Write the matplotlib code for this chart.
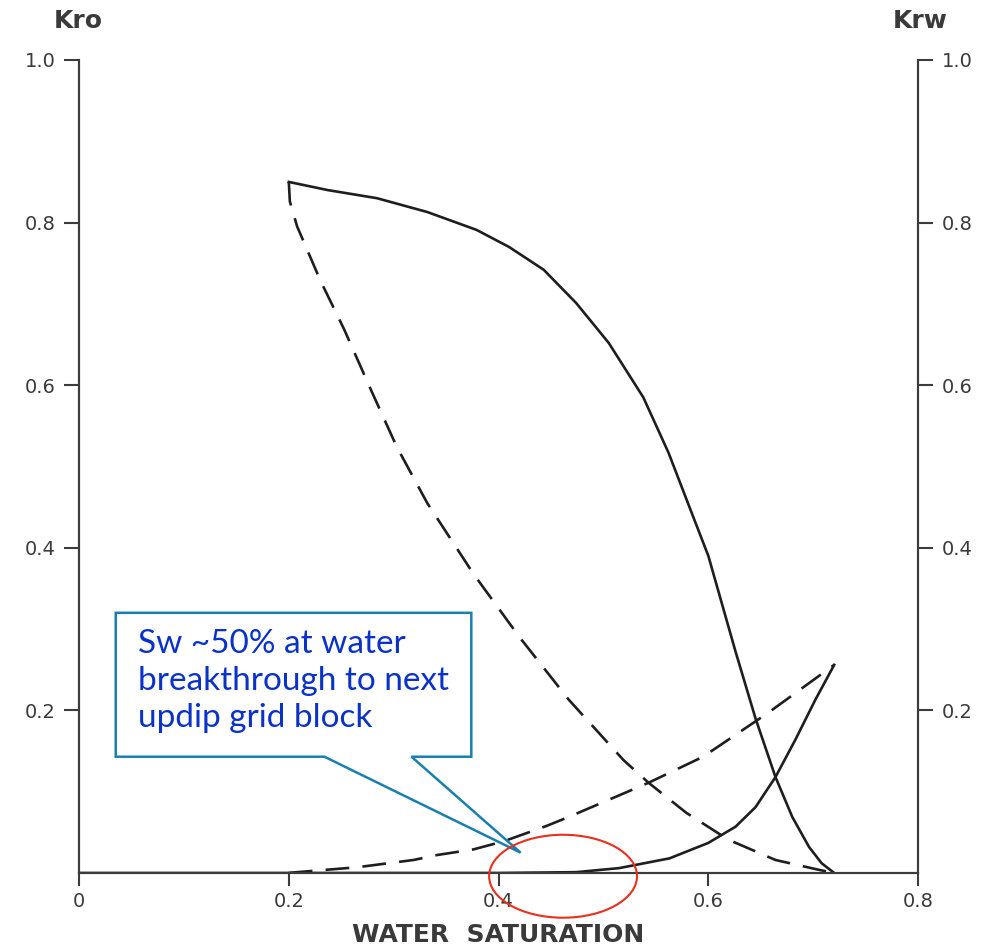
#!/usr/bin/env python3
"""Relative permeability curves (Kro / Krw vs water saturation) with callout."""

import matplotlib
matplotlib.use("Agg")
import matplotlib.pyplot as plt
from matplotlib.patches import Ellipse, Polygon

# --- data ---
# Kro, solid
kro_solid_sw = [0.20, 0.237, 0.284, 0.332, 0.379, 0.410, 0.443, 0.474, 0.505,
                0.538, 0.562, 0.585, 0.600, 0.626, 0.645, 0.664, 0.680, 0.696,
                0.708, 0.72]
kro_solid = [0.85, 0.840, 0.830, 0.813, 0.791, 0.770, 0.742, 0.701, 0.652,
             0.585, 0.517, 0.440, 0.390, 0.272, 0.190, 0.118, 0.069, 0.032,
             0.012, 0.0]
# Kro, dashed
kro_dash_sw = [0.20, 0.201, 0.208, 0.230, 0.253, 0.277, 0.303, 0.332, 0.376,
               0.420, 0.467, 0.519, 0.543, 0.579, 0.619, 0.664, 0.705, 0.72]
kro_dash = [0.85, 0.826, 0.795, 0.729, 0.668, 0.598, 0.524, 0.455, 0.368,
            0.290, 0.213, 0.139, 0.111, 0.074, 0.041, 0.016, 0.004, 0.0]
# Krw, solid
krw_solid_sw = [0.0, 0.40, 0.474, 0.515, 0.563, 0.600, 0.626, 0.645, 0.664,
                0.683, 0.702, 0.72]
krw_solid = [0.0, 0.0, 0.001, 0.006, 0.018, 0.037, 0.057, 0.081, 0.118,
             0.164, 0.213, 0.256]
# Krw, dashed
krw_dash_sw = [0.20, 0.208, 0.265, 0.319, 0.341, 0.376, 0.405, 0.446, 0.467,
               0.543, 0.595, 0.657, 0.72]
krw_dash = [0.0, 0.001, 0.007, 0.016, 0.022, 0.029, 0.039, 0.058, 0.069,
            0.111, 0.143, 0.197, 0.256]

x_ticks = [0, 0.2, 0.4, 0.6, 0.8]
x_labels = ["0", "0.2", "0.4", "0.6", "0.8"]
y_ticks = [0.2, 0.4, 0.6, 0.8, 1.0]
y_labels = ["0.2", "0.4", "0.6", "0.8", "1.0"]

note = "Sw ~50% at water\nbreakthrough to next\nupdip grid block"

LINE = "#1e1e1e"
AXIS = "#3c3c3c"
LABEL = "#3a3a3a"

plt.rcParams["font.family"] = ["DejaVu Sans"]

fig = plt.figure(figsize=(9.83, 9.52), dpi=100)
ax = fig.add_axes([0.0804, 0.083, 0.8536, 0.854])
ax2 = ax.twinx()

ax.set_xlim(0, 0.8)
ax.set_ylim(0, 1.0)
ax2.set_ylim(0, 1.0)

dash = (9, 5)
ax.plot(kro_solid_sw, kro_solid, color=LINE, lw=1.9)
ax.plot(kro_dash_sw, kro_dash, color=LINE, lw=1.9, dashes=dash)
ax2.plot(krw_solid_sw, krw_solid, color=LINE, lw=1.9)
ax2.plot(krw_dash_sw, krw_dash, color=LINE, lw=1.9, dashes=dash)

for a in (ax, ax2):
    a.spines["top"].set_visible(False)
    for s in ("left", "right", "bottom"):
        a.spines[s].set_color(AXIS)
        a.spines[s].set_linewidth(1.5)

ax.set_xticks(x_ticks)
ax.set_xticklabels(x_labels)
ax.set_yticks(y_ticks)
ax.set_yticklabels(y_labels)
ax2.set_yticks(y_ticks)
ax2.set_yticklabels(y_labels)
ax.tick_params(axis="x", direction="out", length=9, width=1.5, color=AXIS,
               labelsize=14, labelcolor=LABEL, pad=5)
ax.tick_params(axis="y", direction="out", length=11, width=1.5, color=AXIS,
               labelsize=14, labelcolor=LABEL, pad=6)
ax2.tick_params(axis="y", direction="out", length=11, width=1.5, color=AXIS,
                labelsize=14, labelcolor=LABEL, pad=6)

ax.set_xlabel("WATER  SATURATION", fontsize=18, fontweight="bold",
              color=LABEL, labelpad=8)
fig.text(0.080, 0.978, "Kro", ha="center", va="center", fontsize=18,
         fontweight="bold", color=LABEL)
fig.text(0.936, 0.978, "Krw", ha="center", va="center", fontsize=18,
         fontweight="bold", color=LABEL)

# callout box with pointer (data coordinates)
bx0, bx1, by0, by1 = 0.035, 0.374, 0.143, 0.320
callout = Polygon([(bx0, by1), (bx1, by1), (bx1, by0), (0.317, by0),
                   (0.421, 0.025), (0.234, by0), (bx0, by0)],
                  closed=True, facecolor="white", edgecolor="#1a7fb0",
                  lw=1.8, zorder=5, clip_on=False)
ax2.add_patch(callout)
ax2.text(0.056, 0.300, note, ha="left", va="top", fontsize=24,
         color="#0a32c8", family=["Lato", "DejaVu Sans"], linespacing=1.28,
         zorder=6)

ring = Ellipse((0.4615, -0.004), 0.141, 0.102, facecolor="none",
               edgecolor="#e8301c", lw=1.5, zorder=7, clip_on=False)
ax2.add_patch(ring)

fig.savefig("out.png", dpi=100)
